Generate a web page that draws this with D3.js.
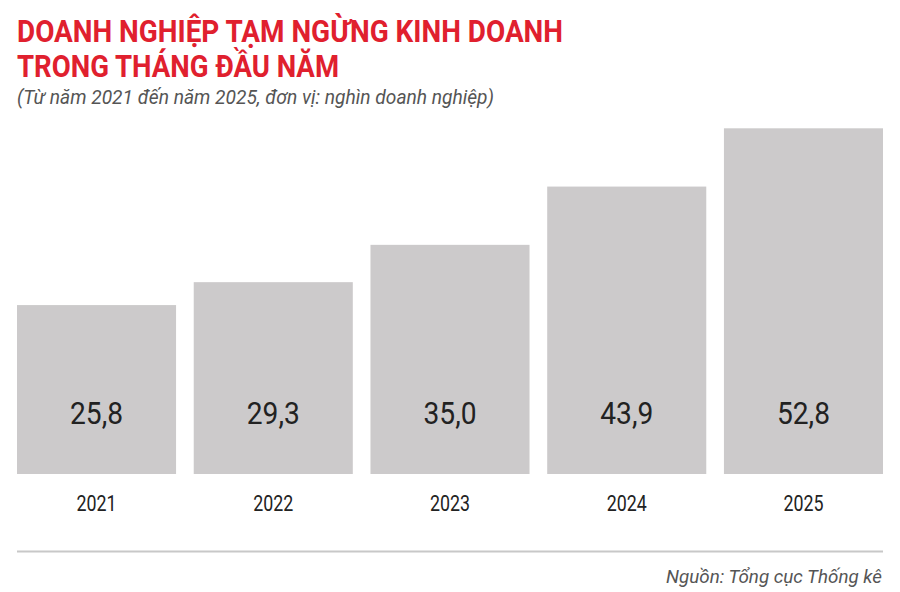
<!DOCTYPE html>
<html><head><meta charset="utf-8">
<script src="https://cdn.jsdelivr.net/npm/d3@7"></script>
<style>body{margin:0;background:#fff}svg{display:block}</style>
</head><body>
<svg id="c" width="900" height="592"></svg>
<script>
const titleLines = ["DOANH NGHIỆP TẠM NGỪNG KINH DOANH", "TRONG THÁNG ĐẦU NĂM"];
const subtitle = "(Từ năm 2021 đến năm 2025, đơn vị: nghìn doanh nghiệp)";
const source = "Nguồn: Tổng cục Thống kê";
const years = ["2021", "2022", "2023", "2024", "2025"];
const values = [25.8, 29.3, 35.0, 43.9, 52.8];

const svg = d3.select("#c");
const font = "Roboto, 'Liberation Sans', sans-serif";

const x = d3.scaleBand().domain(years).range([17, 883]).paddingInner(0.1).paddingOuter(0);
const y = d3.scaleLinear().domain([0, 52.8]).range([474, 128.3]);

// Title (one text element, two lines)
const tl = [{t: titleLines[0], y: 42, w: 546}, {t: titleLines[1], y: 77, w: 322}];
svg.append("text")
  .attr("font-family", font).attr("font-weight", 700).attr("font-size", 32)
  .attr("fill", "#e0202e")
  .selectAll("tspan").data(tl).join("tspan")
  .attr("x", 17).attr("y", d => d.y)
  .attr("textLength", d => d.w).attr("lengthAdjust", "spacingAndGlyphs")
  .text(d => d.t);

svg.append("text").attr("x", 17).attr("y", 104)
  .attr("font-family", font).attr("font-style", "italic").attr("font-size", 20)
  .attr("fill", "#555").attr("textLength", 477).attr("lengthAdjust", "spacingAndGlyphs")
  .text(subtitle);

// Bars
svg.selectAll("rect.bar").data(years).join("rect")
  .attr("class", "bar")
  .attr("x", d => x(d)).attr("width", x.bandwidth())
  .attr("y", (d, i) => y(values[i])).attr("height", (d, i) => y(0) - y(values[i]))
  .attr("fill", "#cccacb");

// Value labels
const fmt = v => d3.format(".1f")(v).replace(".", ",");
svg.selectAll("text.val").data(years).join("text")
  .attr("class", "val")
  .attr("x", d => x(d) + x.bandwidth() / 2).attr("y", 423.5)
  .attr("text-anchor", "middle")
  .attr("font-family", font).attr("font-size", 32).attr("fill", "#222")
  .attr("textLength", 53).attr("lengthAdjust", "spacingAndGlyphs")
  .text((d, i) => fmt(values[i]));

// Axis (year labels)
const axis = svg.append("g").attr("transform", "translate(0,474)")
  .call(d3.axisBottom(x).tickSize(0).tickPadding(0));
axis.select(".domain").remove();
axis.selectAll("text")
  .attr("y", 37).attr("dy", null)
  .attr("font-family", font).attr("font-size", 22).attr("fill", "#222")
  .attr("textLength", 40).attr("lengthAdjust", "spacingAndGlyphs");

// Separator
svg.append("line").attr("x1", 17).attr("x2", 883).attr("y1", 551.5).attr("y2", 551.5)
  .attr("stroke", "#c8c8c8").attr("stroke-width", 2);

// Source
svg.append("text").attr("x", 882).attr("y", 583).attr("text-anchor", "end")
  .attr("font-family", font).attr("font-style", "italic").attr("font-size", 19)
  .attr("fill", "#555").attr("textLength", 216).attr("lengthAdjust", "spacingAndGlyphs")
  .text(source);
</script>
</body></html>
